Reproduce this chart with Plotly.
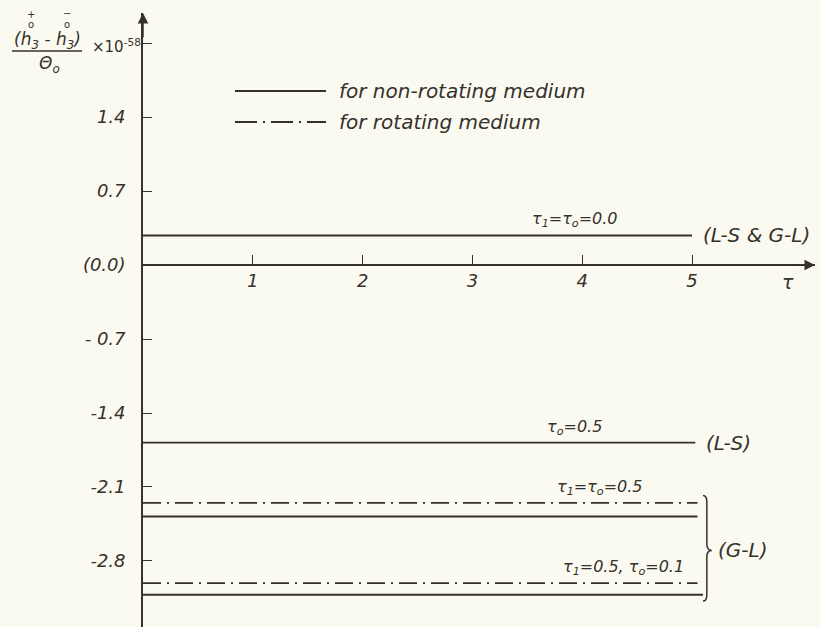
import plotly.graph_objects as go

# ---------------- data ----------------
series_names = [
    "τ1=τo=0.0 (L-S & G-L)",
    "τo=0.5 (L-S)",
    "τ1=τo=0.5 rotating (G-L)",
    "τ1=τo=0.5 non-rotating (G-L)",
    "τ1=0.5, τo=0.1 rotating (G-L)",
    "τ1=0.5, τo=0.1 non-rotating (G-L)",
]
series_values = [0.28, -1.68, -2.25, -2.38, -3.01, -3.12]
series_x_start = [0, 0, 0, 0, 0, 0]
series_x_end = [5.0, 5.03, 5.05, 5.05, 5.05, 5.1]
series_rotating = [False, False, True, False, True, False]

x_tick_values = [1, 2, 3, 4, 5]
x_tick_labels = ["1", "2", "3", "4", "5"]
y_tick_values = [2.1, 1.4, 0.7, 0.0, -0.7, -1.4, -2.1, -2.8]
y_tick_labels = ["", "1.4", "0.7", "(0.0)", "- 0.7", "-1.4", "-2.1", "-2.8"]

curve_labels = ["τ<sub>1</sub>=τ<sub>o</sub>=0.0", "τ<sub>o</sub>=0.5", "τ<sub>1</sub>=τ<sub>o</sub>=0.5",
                "τ<sub>1</sub>=0.5, τ<sub>o</sub>=0.1"]
curve_label_series = [0, 1, 2, 4]
curve_label_x = [3.93, 3.93, 4.16, 4.38]
group_labels = ["(L-S & G-L)", "(L-S)"]
group_label_series = [0, 1]
gl_label = "(G-L)"

x_range = [0, 6.12]
y_range = [-3.425, 2.385]

# ---------------- style ----------------
W, H = 820, 627
ML, MR, MT, MB = 143, 5, 13, 0
INK = "#35312d"
BG = "#fbfaf0"
FONT = "DejaVu Sans"
DASHDOT = "18px,6px,2px,6px"

PW = W - ML - MR
PH = H - MT - MB


def px_x(p):
    return (p - ML) / PW


def px_y(p):
    return 1 - (p - MT) / PH


fig = go.Figure()
for name, v, xs, xe, rot in zip(series_names, series_values, series_x_start,
                                series_x_end, series_rotating):
    fig.add_trace(go.Scatter(
        x=[xs, xe], y=[v, v], mode="lines", name=name, showlegend=False,
        line=dict(color=INK, width=1.9, dash=DASHDOT if rot else "solid"),
        hoverinfo="skip"))


def f(size):
    return dict(family=FONT, size=size, color=INK, style="italic")


ann = []
# labels above the curves
for lab, si, lx in zip(curve_labels, curve_label_series, curve_label_x):
    ann.append(dict(x=lx, y=series_values[si], xref="x", yref="y", text=lab,
                    showarrow=False, yanchor="bottom", yshift=3, font=f(16)))
# group labels at right end
for lab, si in zip(group_labels, group_label_series):
    ann.append(dict(x=series_x_end[si] + 0.08, y=series_values[si], xref="x", yref="y",
                    text=lab, showarrow=False, xanchor="left", yanchor="middle", font=f(20)))

# brace for G-L group
gl_vals = series_values[2:]
top = max(gl_vals) + 0.07
bot = min(gl_vals) - 0.06
mid = (top + bot) / 2 - 0.02
x0, xm, xt = 5.10, 5.135, 5.18
d = 0.06
brace = (f"M {x0},{top} Q {xm},{top} {xm},{top - d} L {xm},{mid + d} "
         f"Q {xm},{mid} {xt},{mid} Q {xm},{mid} {xm},{mid - d} "
         f"L {xm},{bot + d} Q {xm},{bot} {x0},{bot}")
shapes = [dict(type="path", path=brace, xref="x", yref="y",
               line=dict(color=INK, width=1.5))]
ann.append(dict(x=5.22, y=mid, xref="x", yref="y", text=gl_label, showarrow=False,
                xanchor="left", yanchor="middle", font=f(20)))

# axis arrows
ann.append(dict(x=0, y=y_range[1], xref="x", yref="y", ax=0, ay=26, text="",
                showarrow=True, arrowhead=2, arrowsize=1.4, arrowwidth=1.5,
                arrowcolor=INK, standoff=0))
ann.append(dict(x=x_range[1], y=0, xref="x", yref="y", ax=-26, ay=0, text="",
                showarrow=True, arrowhead=2, arrowsize=1.4, arrowwidth=1.5,
                arrowcolor=INK, standoff=0))
ann.append(dict(x=5.87, y=0, xref="x", yref="y", text="τ", showarrow=False,
                yanchor="top", yshift=-4, font=f(19)))

# manual legend
shapes.append(dict(type="line", xref="paper", yref="paper", x0=px_x(235), x1=px_x(326),
                   y0=px_y(91), y1=px_y(91), line=dict(color=INK, width=1.8)))
shapes.append(dict(type="line", xref="paper", yref="paper", x0=px_x(235), x1=px_x(326),
                   y0=px_y(122), y1=px_y(122),
                   line=dict(color=INK, width=1.8, dash="22px,6px,2px,6px")))
ann.append(dict(x=px_x(337), y=px_y(91), xref="paper", yref="paper",
                text="for non-rotating medium", showarrow=False, xanchor="left",
                yanchor="middle", font=f(20)))
ann.append(dict(x=px_x(337), y=px_y(122), xref="paper", yref="paper",
                text="for rotating medium", showarrow=False, xanchor="left",
                yanchor="middle", font=f(20)))

# y-axis title as a fraction
ann.append(dict(x=px_x(47), y=px_y(40), xref="paper", yref="paper",
                text="(h<sub>3</sub> - h<sub>3</sub>)", showarrow=False,
                xanchor="center", yanchor="middle", font=f(17)))
small = dict(family=FONT, size=10, color=INK)
for (sx, sy, st) in [(31, 14, "+"), (31, 24, "o"), (67, 13, "−"), (67, 24, "o")]:
    ann.append(dict(x=px_x(sx), y=px_y(sy), xref="paper", yref="paper", text=st,
                    showarrow=False, xanchor="center", yanchor="middle", font=small))
shapes.append(dict(type="line", xref="paper", yref="paper", x0=px_x(12), x1=px_x(82),
                   y0=px_y(51), y1=px_y(51), line=dict(color=INK, width=1.5)))
ann.append(dict(x=px_x(49), y=px_y(64), xref="paper", yref="paper",
                text="Θ<sub>o</sub>", showarrow=False, xanchor="center",
                yanchor="middle", font=f(17)))
ann.append(dict(x=px_x(90), y=px_y(46), xref="paper", yref="paper",
                text="×10<sup>-58</sup>", showarrow=False, xanchor="left",
                yanchor="middle", font=dict(family=FONT, size=15, color=INK)))

fig.update_layout(
    width=W, height=H,
    margin=dict(l=ML, r=MR, t=MT, b=MB, pad=0),
    paper_bgcolor=BG, plot_bgcolor=BG,
    showlegend=False,
    annotations=ann, shapes=shapes,
    font=dict(family=FONT, size=18, color=INK),
    xaxis=dict(range=x_range, anchor="free",
               position=(0 - y_range[0]) / (y_range[1] - y_range[0]),
               showline=True, linecolor=INK, linewidth=1.7,
               ticks="inside", ticklen=9, tickwidth=1.4, tickcolor=INK,
               tickvals=x_tick_values, ticktext=x_tick_labels,
               tickfont=f(18), showgrid=False, zeroline=False, fixedrange=True),
    yaxis=dict(range=y_range, showline=True, linecolor=INK, linewidth=1.7,
               ticks="inside", ticklen=9, tickwidth=1.4, tickcolor=INK,
               tickvals=y_tick_values, ticktext=y_tick_labels,
               tickfont=f(18), ticklabelstandoff=12,
               showgrid=False, zeroline=False, fixedrange=True),
)

fig.write_html("out.html", config={"displayModeBar": False},
               post_script="document.body.style.margin='0px';"
                           "document.body.style.background='" + BG + "';")
